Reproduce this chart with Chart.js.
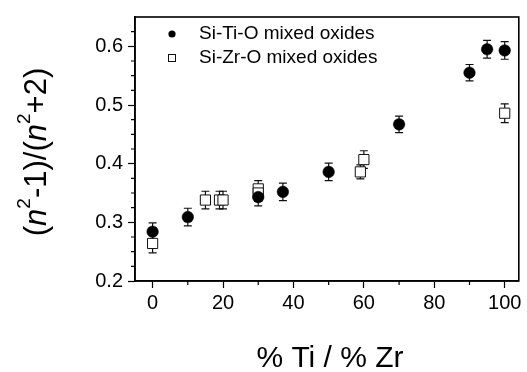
<!DOCTYPE html>
<html><head><meta charset="utf-8">
<script src="https://cdn.jsdelivr.net/npm/chart.js@4/dist/chart.umd.min.js"></script>
<style>html,body{margin:0;padding:0;background:#fff;}canvas{display:block;}</style>
</head><body>
<canvas id="c" width="527" height="372"></canvas>
<script>
// ---- data ----
const tiX = [0, 10, 30, 37, 50, 70, 90, 95, 100];
const tiY = [0.284, 0.309, 0.343, 0.352, 0.386, 0.467, 0.555, 0.595, 0.593];
const tiErr = [0.015, 0.015, 0.015, 0.015, 0.015, 0.014, 0.014, 0.015, 0.015];
const zrX = [0, 15, 19, 20, 30, 30, 59, 60, 100];
const zrY = [0.264, 0.338, 0.338, 0.338, 0.357, 0.350, 0.386, 0.407, 0.486];
const zrErr = [0.016, 0.015, 0.015, 0.015, 0.014, 0.014, 0.012, 0.015, 0.016];
const xMajorTicks = [0, 20, 40, 60, 80, 100];
const xMinorTicks = [10, 30, 50, 70, 90];
const yMajorTicks = [0.2, 0.3, 0.4, 0.5, 0.6];
const yMinorTicks = [0.225, 0.25, 0.275, 0.325, 0.35, 0.375, 0.425, 0.45, 0.475, 0.525, 0.55, 0.575, 0.625];
const seriesNames = ['Si-Ti-O mixed oxides', 'Si-Zr-O mixed oxides'];
const xTitle = '% Ti / % Zr';

const FONT = '"Liberation Sans", Arial, sans-serif';
const toPts = (xs, ys) => xs.map((x, i) => ({x: x, y: ys[i]}));

const errPlugin = {
  id: 'errbars',
  beforeDatasetsDraw(chart) {
    const ctx = chart.ctx, xs = chart.scales.x, ys = chart.scales.y;
    ctx.save();
    ctx.strokeStyle = '#111';
    ctx.lineWidth = 1.2;
    const sets = [[tiX, tiY, tiErr], [zrX, zrY, zrErr]];
    sets.forEach(([X, Y, E]) => {
      X.forEach((xv, i) => {
        const px = xs.getPixelForValue(xv);
        const top = ys.getPixelForValue(Y[i] + E[i]);
        const bot = ys.getPixelForValue(Y[i] - E[i]);
        ctx.beginPath();
        ctx.moveTo(px, top); ctx.lineTo(px, bot);
        ctx.moveTo(px - 4, top); ctx.lineTo(px + 4, top);
        ctx.moveTo(px - 4, bot); ctx.lineTo(px + 4, bot);
        ctx.stroke();
      });
    });
    ctx.restore();
  },
  afterDraw(chart) {
    const ctx = chart.ctx, a = chart.chartArea, xs = chart.scales.x, ys = chart.scales.y;
    ctx.save();
    // frame
    ctx.strokeStyle = '#000';
    ctx.lineWidth = 1.6;
    ctx.strokeRect(a.left, a.top, a.right - a.left, a.bottom - a.top);
    // minor ticks
    ctx.lineWidth = 1.2;
    ctx.beginPath();
    xMinorTicks.forEach(v => {
      const px = xs.getPixelForValue(v);
      ctx.moveTo(px, a.bottom); ctx.lineTo(px, a.bottom + 4);
    });
    yMinorTicks.forEach(v => {
      const py = ys.getPixelForValue(v);
      ctx.moveTo(a.left, py); ctx.lineTo(a.left - 4, py);
    });
    ctx.stroke();
    // legend
    ctx.fillStyle = '#000';
    ctx.beginPath();
    ctx.arc(172, 34, 3.6, 0, Math.PI * 2);
    ctx.fill();
    ctx.strokeStyle = '#111';
    ctx.lineWidth = 1;
    ctx.strokeRect(168.5, 54.5, 7, 7);
    ctx.font = '19px ' + FONT;
    ctx.textBaseline = 'middle';
    ctx.textAlign = 'left';
    ctx.fillStyle = '#000';
    ctx.fillText(seriesNames[0], 199, 34);
    ctx.fillText(seriesNames[1], 199, 58);
    // x title
    ctx.font = '30px ' + FONT;
    ctx.textAlign = 'center';
    ctx.textBaseline = 'alphabetic';
    ctx.fillText(xTitle, 330, 367);
    // y title (rotated, with superscripts and italic n)
    ctx.translate(46, 152);
    ctx.rotate(-Math.PI / 2);
    const base = 31, sup = 19;
    const segs = [
      ['(', 'normal', base, 0], ['n', 'italic', base, 0], ['2', 'normal', sup, -16],
      ['-1)/(', 'normal', base, 0], ['n', 'italic', base, 0], ['2', 'normal', sup, -16],
      ['+2)', 'normal', base, 0]
    ];
    let total = 0;
    segs.forEach(s => { ctx.font = s[1] + ' ' + s[2] + 'px ' + FONT; total += ctx.measureText(s[0]).width; });
    let cx = -total / 2;
    ctx.textAlign = 'left';
    segs.forEach(s => {
      ctx.font = s[1] + ' ' + s[2] + 'px ' + FONT;
      ctx.fillText(s[0], cx, s[3]);
      cx += ctx.measureText(s[0]).width;
    });
    ctx.restore();
  }
};

new Chart(document.getElementById('c'), {
  type: 'scatter',
  data: {
    datasets: [
      {
        label: seriesNames[0],
        data: toPts(tiX, tiY),
        pointStyle: 'circle',
        pointRadius: 5.8,
        pointBackgroundColor: '#000',
        pointBorderColor: '#000',
        pointBorderWidth: 0.5
      },
      {
        label: seriesNames[1],
        data: toPts(zrX, zrY),
        pointStyle: 'rect',
        pointRadius: 7.2,
        pointBackgroundColor: '#fff',
        pointBorderColor: '#111',
        pointBorderWidth: 1
      }
    ]
  },
  options: {
    responsive: false,
    animation: false,
    devicePixelRatio: 1,
    layout: {padding: {left: 0, right: 6, top: 7, bottom: 0}},
    plugins: {legend: {display: false}, tooltip: {enabled: false}},
    scales: {
      x: {
        type: 'linear', min: -5, max: 104,
        afterBuildTicks: s => { s.ticks = xMajorTicks.map(v => ({value: v})); },
        afterFit: s => { s.height = 91; },
        grid: {drawOnChartArea: false, drawTicks: true, tickLength: 7, color: '#000', tickWidth: 1.2},
        border: {display: true, color: '#000', width: 1.6},
        ticks: {font: {family: FONT, size: 20}, color: '#000', padding: 3, maxRotation: 0}
      },
      y: {
        type: 'linear', min: 0.2, max: 0.65,
        afterBuildTicks: s => { s.ticks = yMajorTicks.map(v => ({value: v})); },
        afterFit: s => { s.width = 135; },
        grid: {drawOnChartArea: false, drawTicks: true, tickLength: 7, color: '#000', tickWidth: 1.2},
        border: {display: true, color: '#000', width: 1.6},
        ticks: {font: {family: FONT, size: 20}, color: '#000', padding: 5,
          callback: v => v.toFixed(1)}
      }
    }
  },
  plugins: [errPlugin]
});
</script>
</body></html>
